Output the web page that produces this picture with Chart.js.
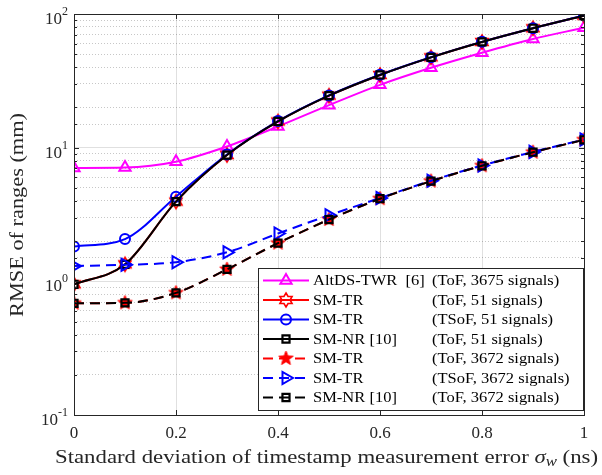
<!DOCTYPE html>
<html><head><meta charset="utf-8">
<script src="https://cdn.jsdelivr.net/npm/chart.js"></script>
<style>html,body{margin:0;padding:0;background:#fff;}#wrap{width:602px;height:475px;position:relative;}</style>
</head><body><div id="wrap"><canvas id="c" width="602" height="475"></canvas></div>
<script>
// ---------- data ----------
const sigma = [0, 0.1, 0.2, 0.3, 0.4, 0.5, 0.6, 0.7, 0.8, 0.9, 1.0];
const altdsTof3675 = [7.05, 7.1, 7.85, 10.2, 14.4, 20.8, 29.5, 39.6, 51.3, 65.0, 79.0];
const smtrTof51    = [0.95, 1.34, 3.95, 8.8, 15.7, 24.5, 35.0, 47.4, 61.8, 78.2, 97.2];
const smtrTsof51   = [1.82, 2.07, 4.30, 8.9, 15.8, 24.6, 35.1, 47.5, 61.9, 78.3, 97.3];
const smnrTof51    = [0.95, 1.34, 3.95, 8.8, 15.7, 24.5, 35.0, 47.4, 61.8, 78.2, 97.2];
const smtrTof3672  = [0.685, 0.69, 0.82, 1.23, 1.93, 2.90, 4.15, 5.62, 7.32, 9.25, 11.45];
const smtrTsof3672 = [1.30, 1.33, 1.39, 1.65, 2.28, 3.12, 4.20, 5.66, 7.36, 9.30, 11.50];
const smnrTof3672  = [0.685, 0.69, 0.82, 1.23, 1.93, 2.90, 4.15, 5.62, 7.32, 9.25, 11.45];

const seriesNames = ['AltDS-TWR  [6]', 'SM-TR', 'SM-TR', 'SM-NR [10]', 'SM-TR', 'SM-TR', 'SM-NR [10]'];
const seriesDetails = ['(ToF, 3675 signals)', '(ToF, 51 signals)', '(TSoF, 51 signals)', '(ToF, 51 signals)',
                       '(ToF, 3672 signals)', '(TSoF, 3672 signals)', '(ToF, 3672 signals)'];
const xTickValues = [0, 0.2, 0.4, 0.6, 0.8, 1];
const xTickLabels = ['0', '0.2', '0.4', '0.6', '0.8', '1'];
const yTickExponents = [-1, 0, 1, 2];
const xTitleMain = 'Standard deviation of timestamp measurement error ';
const xTitleSym = 'σ';
const xTitleSub = 'w';
const xTitleUnit = ' (ns)';
const yTitle = 'RMSE of ranges (mm)';

// ---------- marker images ----------
function starCanvas(points, outer, inner, color, fill, lw) {
  const s = Math.ceil(outer * 2 + lw * 2 + 2);
  const c = document.createElement('canvas');
  c.width = s; c.height = s;
  const g = c.getContext('2d');
  g.translate(s / 2, s / 2);
  g.beginPath();
  for (let i = 0; i < points * 2; i++) {
    const r = i % 2 === 0 ? outer : inner;
    const a = -Math.PI / 2 + i * Math.PI / points;
    const px = Math.cos(a) * r, py = Math.sin(a) * r;
    if (i === 0) g.moveTo(px, py); else g.lineTo(px, py);
  }
  g.closePath();
  if (fill) { g.fillStyle = color; g.fill(); }
  g.strokeStyle = color; g.lineWidth = lw; g.lineJoin = 'miter'; g.stroke();
  return c;
}
const hexagram = starCanvas(6, 7, 4.1, '#ff0000', false, 1.6);
const pentagram = starCanvas(5, 7.5, 3.2, '#ff0000', true, 1);

const FONT = '"Liberation Serif", "DejaVu Serif", serif';
const dashPat = [10, 6];

function mk(data) { return sigma.map((x, i) => ({ x: x, y: data[i] })); }

const datasets = [
  { data: mk(altdsTof3675), borderColor: '#ff00ff', pointStyle: 'triangle', pointRadius: 6.5, pointBorderWidth: 2,
    pointBackgroundColor: 'rgba(0,0,0,0)', pointBorderColor: '#ff00ff', borderDash: [] },
  { data: mk(smtrTof51), borderColor: '#ff0000', pointStyle: hexagram, pointRadius: 7, pointBorderWidth: 0,
    pointBackgroundColor: 'rgba(0,0,0,0)', pointBorderColor: '#ff0000', borderDash: [] },
  { data: mk(smtrTsof51), borderColor: '#0000ff', pointStyle: 'circle', pointRadius: 5, pointBorderWidth: 2,
    pointBackgroundColor: 'rgba(0,0,0,0)', pointBorderColor: '#0000ff', borderDash: [] },
  { data: mk(smnrTof51), borderColor: '#000000', pointStyle: 'rect', pointRadius: 5, pointBorderWidth: 2.2,
    pointBackgroundColor: 'rgba(0,0,0,0)', pointBorderColor: '#000000', borderDash: [] },
  { data: mk(smtrTof3672), borderColor: '#ff0000', pointStyle: pentagram, pointRadius: 7, pointBorderWidth: 0,
    pointBackgroundColor: 'rgba(0,0,0,0)', pointBorderColor: '#ff0000', borderDash: dashPat },
  { data: mk(smtrTsof3672), borderColor: '#0000ff', pointStyle: 'triangle', pointRotation: 90, pointRadius: 7, pointBorderWidth: 2,
    pointBackgroundColor: 'rgba(0,0,0,0)', pointBorderColor: '#0000ff', borderDash: dashPat },
  { data: mk(smnrTof3672), borderColor: '#000000', pointStyle: 'rect', pointRadius: 5, pointBorderWidth: 2.2,
    pointBackgroundColor: 'rgba(0,0,0,0)', pointBorderColor: '#000000', borderDash: dashPat }
];
datasets.forEach((d, i) => {
  d.label = seriesNames[i] + ' ' + seriesDetails[i];
  d.borderWidth = 2;
  d.fill = false;
  d.cubicInterpolationMode = 'monotone';
  d.order = datasets.length - 1 - i;
  d.pointHoverRadius = d.pointRadius;
});

function isDecade(v) { const l = Math.log10(v); return Math.abs(l - Math.round(l)) < 1e-6; }

function stretchText(ctx, str, x, y, font, align, sx) {
  ctx.save();
  ctx.font = font;
  ctx.translate(x, y);
  ctx.scale(sx, 1);
  ctx.textAlign = align;
  ctx.fillText(str, 0, 0);
  ctx.restore();
}

function drawMarker(ctx, ds, x, y) {
  const st = ds.pointStyle;
  ctx.save();
  if (st instanceof HTMLCanvasElement) {
    ctx.drawImage(st, x - st.width / 2, y - st.height / 2);
    ctx.restore(); return;
  }
  const r = ds.pointRadius;
  ctx.lineWidth = ds.pointBorderWidth;
  ctx.strokeStyle = ds.pointBorderColor;
  ctx.setLineDash([]);
  ctx.beginPath();
  if (st === 'circle') {
    ctx.arc(x, y, r, 0, Math.PI * 2);
  } else if (st === 'rect') {
    const s = Math.SQRT1_2 * r;
    ctx.rect(x - s, y - s, 2 * s, 2 * s);
  } else if (st === 'triangle') {
    let rad = (ds.pointRotation || 0) * Math.PI / 180;
    for (let k = 0; k < 3; k++) {
      const px = x + Math.sin(rad) * r, py = y - Math.cos(rad) * r;
      if (k === 0) ctx.moveTo(px, py); else ctx.lineTo(px, py);
      rad += 2 * Math.PI / 3;
    }
    ctx.closePath();
  }
  ctx.stroke();
  ctx.restore();
}

const decor = {
  id: 'decor',
  afterDatasetsDraw(chart) {
    const ctx = chart.ctx, a = chart.chartArea;
    const xs = chart.scales.x, ys = chart.scales.y;
    ctx.save();
    ctx.strokeStyle = '#262626';
    ctx.lineWidth = 1;
    ctx.setLineDash([]);
    // ticks inward
    ctx.beginPath();
    xTickValues.forEach(v => {
      const px = Math.round(xs.getPixelForValue(v)) + 0.5;
      ctx.moveTo(px, a.bottom); ctx.lineTo(px, a.bottom - 5);
      ctx.moveTo(px, a.top); ctx.lineTo(px, a.top + 5);
    });
    ys.ticks.forEach(t => {
      const py = Math.round(ys.getPixelForValue(t.value)) + 0.5;
      const len = isDecade(t.value) ? 5 : 3;
      ctx.moveTo(a.left, py); ctx.lineTo(a.left + len, py);
      ctx.moveTo(a.right, py); ctx.lineTo(a.right - len, py);
    });
    ctx.stroke();
    // box
    ctx.strokeRect(Math.round(a.left) + 0.5, Math.round(a.top) + 0.5,
                   Math.round(a.right - a.left), Math.round(a.bottom - a.top));
    ctx.restore();
  },
  afterDraw(chart) {
    const ctx = chart.ctx, a = chart.chartArea;
    const ys = chart.scales.y;
    ctx.save();
    ctx.fillStyle = '#262626';
    ctx.textBaseline = 'alphabetic';
    // y tick labels 10^n
    yTickExponents.forEach(e => {
      const py = ys.getPixelForValue(Math.pow(10, e));
      const baseF = '17px ' + FONT, expF = '12px ' + FONT;
      const expStr = e < 0 ? '-' + Math.abs(e) : String(e);
      ctx.font = expF; const we = ctx.measureText(expStr).width;
      ctx.font = baseF; const wb = ctx.measureText('10').width;
      const right = a.left - 6;
      ctx.textAlign = 'left';
      ctx.font = baseF; ctx.fillText('10', right - we - wb, py + 10);
      ctx.font = expF; ctx.fillText(expStr, right - we, py + 1);
    });
    // x title
    const fMain = '19px ' + FONT, fIt = 'italic 19px ' + FONT, fSub = 'italic 14px ' + FONT;
    const pieces = [[xTitleMain, fMain, 0], [xTitleSym, fIt, 0], [xTitleSub, fSub, 3], [xTitleUnit, fMain, 0]];
    let W = 0;
    pieces.forEach(p => { ctx.font = p[1]; p.push(ctx.measureText(p[0]).width); W += p[3]; });
    const sx = 543 / W;
    ctx.save();
    ctx.translate(55, 463);
    ctx.scale(sx, 1);
    ctx.textAlign = 'left';
    let cx = 0;
    pieces.forEach(p => { ctx.font = p[1]; ctx.fillText(p[0], cx, p[2]); cx += p[3]; });
    ctx.restore();
    // y title
    ctx.font = '19px ' + FONT;
    const wy = ctx.measureText(yTitle).width;
    ctx.save();
    ctx.translate(23, 215);
    ctx.rotate(-Math.PI / 2);
    ctx.scale(204 / wy, 1);
    ctx.textAlign = 'center';
    ctx.fillText(yTitle, 0, 0);
    ctx.restore();

    // legend
    const L = 258, T = 268, R = 583, B = 410;
    ctx.fillStyle = '#ffffff';
    ctx.fillRect(L, T, R - L, B - T);
    ctx.strokeStyle = '#262626';
    ctx.lineWidth = 1;
    ctx.strokeRect(L + 0.5, T + 0.5, R - L, B - T);
    const rowH = 19.5, y0 = 280.5;
    chart.data.datasets.forEach((ds, i) => {
      const y = y0 + i * rowH;
      ctx.save();
      ctx.strokeStyle = ds.borderColor;
      ctx.lineWidth = 2;
      ctx.setLineDash(ds.borderDash || []);
      ctx.beginPath(); ctx.moveTo(263, y); ctx.lineTo(309, y); ctx.stroke();
      ctx.restore();
      drawMarker(ctx, ds, 286, y);
      ctx.fillStyle = '#000000';
      ctx.textBaseline = 'middle';
      stretchText(ctx, seriesNames[i], 313, y + 1, '15px ' + FONT, 'left', 1.1);
      stretchText(ctx, seriesDetails[i], 432, y + 1, '15px ' + FONT, 'left', 1.1);
    });
    ctx.restore();
  }
};

new Chart(document.getElementById('c'), {
  type: 'line',
  data: { datasets: datasets },
  options: {
    responsive: false,
    animation: false,
    devicePixelRatio: 1,
    layout: { padding: { left: 0, right: 18, top: 14, bottom: 0 } },
    plugins: { legend: { display: false }, tooltip: { enabled: false } },
    scales: {
      x: {
        type: 'linear', min: 0, max: 1,
        afterFit: s => { s.height = 60; },
        ticks: {
          stepSize: 0.2, padding: 8, color: '#262626', font: { family: FONT, size: 17 },
          maxRotation: 0, autoSkip: false,
          callback: v => {
            const k = xTickValues.findIndex(t => Math.abs(t - v) < 1e-6);
            return k >= 0 ? xTickLabels[k] : '';
          }
        },
        grid: { color: 'rgba(0,0,0,0.12)', lineWidth: 1, drawTicks: false },
        border: { display: false }
      },
      y: {
        type: 'logarithmic', min: 0.1, max: 100,
        afterFit: s => { s.width = 74; },
        ticks: { display: false, autoSkip: false },
        grid: {
          drawTicks: false, lineWidth: 1,
          color: c => (c.tick && isDecade(c.tick.value)) ? 'rgba(0,0,0,0.12)' : 'rgba(0,0,0,0.22)'
        },
        border: {
          display: false,
          dash: c => (c.tick && isDecade(c.tick.value)) ? [] : [1, 2]
        }
      }
    }
  },
  plugins: [decor]
});
</script>
</body></html>
